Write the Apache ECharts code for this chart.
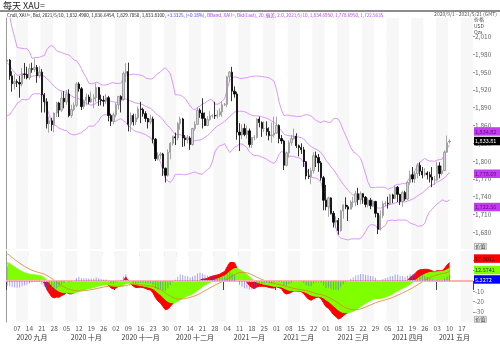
<!DOCTYPE html>
<html><head><meta charset="utf-8">
<script src="https://cdn.jsdelivr.net/npm/echarts@6/dist/echarts.min.js"></script>
<style>html,body{margin:0;padding:0;background:#fff}#c{width:500px;height:347px}</style>
</head><body><div id="c"></div>
<script>
// ---------- DATA ----------
const dates = [
'2020-09-01','2020-09-02','2020-09-03','2020-09-04','2020-09-07','2020-09-08','2020-09-09','2020-09-10','2020-09-11','2020-09-14','2020-09-15','2020-09-16','2020-09-17','2020-09-18','2020-09-21','2020-09-22','2020-09-23','2020-09-24','2020-09-25','2020-09-28','2020-09-29','2020-09-30',
'2020-10-01','2020-10-02','2020-10-05','2020-10-06','2020-10-07','2020-10-08','2020-10-09','2020-10-12','2020-10-13','2020-10-14','2020-10-15','2020-10-16','2020-10-19','2020-10-20','2020-10-21','2020-10-22','2020-10-23','2020-10-26','2020-10-27','2020-10-28','2020-10-29','2020-10-30',
'2020-11-02','2020-11-03','2020-11-04','2020-11-05','2020-11-06','2020-11-09','2020-11-10','2020-11-11','2020-11-12','2020-11-13','2020-11-16','2020-11-17','2020-11-18','2020-11-19','2020-11-20','2020-11-23','2020-11-24','2020-11-25','2020-11-26','2020-11-27','2020-11-30',
'2020-12-01','2020-12-02','2020-12-03','2020-12-04','2020-12-07','2020-12-08','2020-12-09','2020-12-10','2020-12-11','2020-12-14','2020-12-15','2020-12-16','2020-12-17','2020-12-18','2020-12-21','2020-12-22','2020-12-23','2020-12-24','2020-12-25','2020-12-28','2020-12-29','2020-12-30','2020-12-31',
'2021-01-01','2021-01-04','2021-01-05','2021-01-06','2021-01-07','2021-01-08','2021-01-11','2021-01-12','2021-01-13','2021-01-14','2021-01-15','2021-01-18','2021-01-19','2021-01-20','2021-01-21','2021-01-22','2021-01-25','2021-01-26','2021-01-27','2021-01-28','2021-01-29',
'2021-02-01','2021-02-02','2021-02-03','2021-02-04','2021-02-05','2021-02-08','2021-02-09','2021-02-10','2021-02-11','2021-02-12','2021-02-15','2021-02-16','2021-02-17','2021-02-18','2021-02-19','2021-02-22','2021-02-23','2021-02-24','2021-02-25','2021-02-26',
'2021-03-01','2021-03-02','2021-03-03','2021-03-04','2021-03-05','2021-03-08','2021-03-09','2021-03-10','2021-03-11','2021-03-12','2021-03-15','2021-03-16','2021-03-17','2021-03-18','2021-03-19','2021-03-22','2021-03-23','2021-03-24','2021-03-25','2021-03-26','2021-03-29','2021-03-30','2021-03-31',
'2021-04-01','2021-04-02','2021-04-05','2021-04-06','2021-04-07','2021-04-08','2021-04-09','2021-04-12','2021-04-13','2021-04-14','2021-04-15','2021-04-16','2021-04-19','2021-04-20','2021-04-21','2021-04-22','2021-04-23','2021-04-26','2021-04-27','2021-04-28','2021-04-29','2021-04-30',
'2021-05-03','2021-05-04','2021-05-05','2021-05-06','2021-05-07','2021-05-10','2021-05-11','2021-05-12','2021-05-13','2021-05-14','2021-05-17','2021-05-18','2021-05-19','2021-05-20','2021-05-21'
];
// [open, high, low, close] per trading day, 2020-09-01 .. 2021-05-10
const ohlc = [
[1967.9,1992.4,1963.5,1970.4],[1970.4,1972.0,1937.0,1943.7],[1943.7,1951.5,1917.0,1930.6],[1930.6,1946.5,1920.5,1934.1],[1934.1,1938.0,1925.0,1932.6],[1932.6,1943.6,1907.0,1930.0],[1930.0,1957.0,1926.0,1947.0],[1947.0,1965.6,1939.0,1946.0],[1946.0,1959.0,1938.0,1940.5],[1940.5,1964.0,1937.0,1956.0],[1956.0,1966.0,1949.0,1954.5],[1954.5,1973.0,1950.0,1958.0],[1958.0,1962.0,1932.0,1944.0],[1944.0,1960.0,1940.0,1950.0],[1950.0,1955.0,1882.0,1912.0],[1912.0,1915.0,1882.0,1900.0],[1900.0,1906.0,1855.0,1863.0],[1863.0,1875.0,1848.0,1868.0],[1868.0,1873.0,1851.0,1861.5],[1861.5,1882.0,1848.5,1881.0],[1881.0,1900.0,1874.0,1898.0],[1898.0,1900.0,1874.5,1886.0],
[1886.0,1917.0,1883.0,1906.0],[1906.0,1918.0,1889.0,1900.0],[1900.0,1920.0,1895.0,1913.0],[1913.0,1921.0,1874.0,1877.0],[1877.0,1895.0,1873.0,1887.0],[1887.0,1899.0,1884.0,1894.0],[1894.0,1933.0,1891.0,1930.0],[1930.0,1933.0,1917.0,1922.0],[1922.0,1925.0,1886.0,1892.0],[1892.0,1904.0,1888.0,1902.0],[1902.0,1914.0,1894.0,1908.0],[1908.0,1912.0,1896.0,1900.0],[1900.0,1917.0,1898.0,1905.0],[1905.0,1913.0,1889.0,1907.0],[1907.0,1931.0,1900.0,1924.0],[1924.0,1925.0,1893.0,1904.0],[1904.0,1912.0,1894.0,1902.0],[1902.0,1910.0,1892.0,1901.0],[1901.0,1913.0,1896.0,1907.0],[1907.0,1910.0,1867.0,1877.0],[1877.0,1880.0,1859.0,1867.0],[1867.0,1882.0,1862.0,1878.0],
[1878.0,1898.0,1874.0,1895.0],[1895.0,1910.0,1887.0,1909.0],[1909.0,1911.0,1882.0,1904.0],[1904.0,1951.0,1902.0,1948.0],[1948.0,1965.0,1933.0,1951.0],[1951.0,1966.0,1850.0,1862.0],[1862.0,1882.0,1849.0,1877.0],[1877.0,1880.0,1860.0,1866.0],[1866.0,1880.0,1861.0,1873.0],[1873.0,1892.0,1870.0,1888.0],[1888.0,1900.0,1864.0,1887.0],[1887.0,1890.0,1875.0,1880.0],[1880.0,1884.0,1866.0,1872.0],[1872.0,1873.0,1855.0,1866.0],[1866.0,1878.0,1862.0,1871.0],[1871.0,1875.0,1830.0,1837.0],[1837.0,1839.0,1800.0,1804.0],[1804.0,1815.0,1801.0,1810.0],[1810.0,1815.0,1803.0,1812.0],[1812.0,1814.0,1775.0,1788.0],[1788.0,1789.0,1764.0,1776.0],
[1776.0,1820.0,1774.0,1815.0],[1815.0,1832.0,1803.0,1830.0],[1830.0,1843.0,1826.0,1841.0],[1841.0,1848.0,1827.0,1839.0],[1839.0,1866.0,1835.0,1863.0],[1863.0,1875.0,1853.0,1871.0],[1871.0,1873.0,1824.0,1839.0],[1839.0,1844.0,1825.0,1836.0],[1836.0,1844.0,1830.0,1839.0],[1839.0,1842.0,1819.0,1828.0],[1828.0,1856.0,1826.0,1855.0],[1855.0,1867.0,1851.0,1862.0],[1862.0,1891.0,1861.0,1886.0],[1886.0,1889.0,1873.0,1881.0],[1881.0,1906.0,1855.0,1872.0],[1872.0,1882.0,1859.0,1860.0],[1860.0,1876.0,1859.0,1870.0],[1870.0,1884.0,1868.0,1876.0],[1876.0,1879.0,1873.0,1877.0],[1877.0,1900.0,1871.0,1876.0],[1876.0,1886.0,1872.0,1878.0],[1878.0,1889.0,1875.0,1883.0],[1883.0,1900.0,1875.0,1895.0],
[1895.0,1898.0,1893.0,1896.0],[1896.0,1944.0,1891.0,1942.0],[1942.0,1952.0,1933.0,1950.0],[1950.0,1959.0,1901.0,1918.0],[1918.0,1926.0,1907.0,1913.0],[1913.0,1917.0,1836.0,1849.0],[1849.0,1864.0,1817.0,1844.0],[1844.0,1862.0,1837.0,1855.0],[1855.0,1863.0,1842.0,1845.0],[1845.0,1860.0,1838.0,1851.0],[1851.0,1855.0,1823.0,1828.0],[1828.0,1840.0,1822.0,1840.0],[1840.0,1844.0,1835.0,1840.0],[1840.0,1872.0,1838.0,1871.0],[1871.0,1875.0,1857.0,1865.0],[1865.0,1867.0,1841.0,1855.0],[1855.0,1867.0,1849.0,1855.0],[1855.0,1867.0,1843.0,1850.0],[1850.0,1857.0,1835.0,1843.0],[1843.0,1865.0,1831.0,1844.0],[1844.0,1875.0,1840.0,1847.0],
[1847.0,1875.0,1846.0,1860.0],[1860.0,1862.0,1830.0,1838.0],[1838.0,1844.0,1829.0,1834.0],[1834.0,1836.0,1785.0,1793.0],[1793.0,1816.0,1791.0,1814.0],[1814.0,1835.0,1806.0,1831.0],[1831.0,1844.0,1826.0,1838.0],[1838.0,1855.0,1836.0,1842.0],[1842.0,1847.0,1822.0,1826.0],[1826.0,1828.0,1808.0,1823.0],[1823.0,1830.0,1812.0,1819.0],[1819.0,1824.0,1790.0,1799.0],[1799.0,1800.0,1769.0,1775.0],[1775.0,1787.0,1770.0,1774.0],[1774.0,1789.0,1761.0,1784.0],[1784.0,1815.0,1779.0,1809.0],[1809.0,1816.0,1790.0,1806.0],[1806.0,1812.0,1782.0,1797.0],[1797.0,1800.0,1767.0,1772.0],[1772.0,1775.0,1717.0,1734.0],
[1734.0,1760.0,1717.0,1723.0],[1723.0,1740.0,1706.0,1738.0],[1738.0,1739.0,1710.0,1712.0],[1712.0,1716.0,1688.0,1697.0],[1697.0,1707.0,1687.0,1700.0],[1700.0,1704.0,1676.0,1683.0],[1683.0,1718.0,1681.0,1716.0],[1716.0,1727.0,1703.0,1726.0],[1726.0,1739.0,1719.0,1723.0],[1723.0,1726.0,1699.0,1719.0],[1719.0,1734.0,1719.0,1731.0],[1731.0,1740.0,1722.0,1731.0],[1731.0,1750.0,1724.0,1745.0],[1745.0,1755.0,1726.0,1735.0],[1735.0,1749.0,1727.0,1745.0],[1745.0,1746.0,1728.0,1739.0],[1739.0,1741.0,1722.0,1727.0],[1727.0,1738.0,1722.0,1734.0],[1734.0,1738.0,1719.0,1725.0],[1725.0,1735.0,1723.0,1732.0],[1732.0,1733.0,1705.0,1712.0],[1712.0,1713.0,1677.0,1685.0],[1685.0,1717.0,1683.0,1708.0],
[1708.0,1733.0,1704.0,1728.0],[1728.0,1733.0,1724.0,1729.0],[1729.0,1740.0,1720.0,1728.0],[1728.0,1745.0,1726.0,1743.0],[1743.0,1745.0,1729.0,1737.0],[1737.0,1759.0,1736.0,1756.0],[1756.0,1758.0,1731.0,1744.0],[1744.0,1745.0,1726.0,1732.0],[1732.0,1750.0,1723.0,1747.0],[1747.0,1750.0,1733.0,1736.0],[1736.0,1766.0,1734.0,1764.0],[1764.0,1784.0,1760.0,1777.0],[1777.0,1790.0,1764.0,1770.0],[1770.0,1783.0,1763.0,1779.0],[1779.0,1797.0,1771.0,1793.0],[1793.0,1798.0,1775.0,1783.0],[1783.0,1790.0,1771.0,1777.0],[1777.0,1788.0,1774.0,1780.0],[1780.0,1783.0,1769.0,1777.0],[1777.0,1782.0,1764.0,1773.0],[1773.0,1790.0,1756.0,1768.0],[1768.0,1775.0,1760.0,1768.0],
[1768.0,1799.0,1767.0,1792.0],[1792.0,1798.0,1771.0,1779.0],[1779.0,1792.0,1776.0,1784.0],[1784.0,1818.0,1783.0,1815.0],[1815.0,1843.0,1814.0,1831.0],[1832.49,1836.65,1829.79,1833.81]
];
// closes before the visible range (Jun-Aug 2020), used only to seed the indicators
const warmupClose = [
1739.6,1727.0,1699.4,1714.2,1685.0,1698.2,1715.0,1737.3,1728.0,1730.0,1726.0,1727.3,1726.5,1722.2,1743.5,1754.0,1768.2,1761.0,1763.1,1771.1,1772.0,1780.9,
1769.7,1775.2,1772.1,1783.8,1795.0,1809.9,1803.2,1798.5,1802.5,1809.4,1808.1,1797.0,1810.2,1817.9,1842.5,1871.7,1887.4,1902.5,1941.4,1958.6,1970.2,1957.5,1975.9,
1976.7,2019.0,2039.2,2063.0,2035.5,2028.0,1911.8,1915.0,1954.5,1944.7,1985.5,2000.8,1929.5,1946.8,1940.2,1929.2,1907.0,1953.5,1929.7,1964.4,1967.8
];
const priceTicks = [1680,1710,1740,1770,1800,1830,1860,1890,1920,1950,1980,2010];
const macdTicks = [-30,-20,-10,0,10,20];
// last values shown on the axis tags (from the reference legend)
const bandTags = [1834.82, 1778.695, 1722.5635];   // upper, mid, lower
const closeTag = 1833.81;
const macdTags = [17.8011, 12.5741, 5.3272];        // MACD, signal, histogram
const monthNames = ['一月','二月','三月','四月','五月','六月','七月','八月','九月','十月','十一月','十二月'];

// ---------- INDICATORS (BBand 20/2.0, MACD 12/26/9) ----------
const close = ohlc.map(r => r[3]);
const allClose = warmupClose.concat(close);
const W = warmupClose.length;
const upper = [], mid = [], lower = [];
for (let i = 0; i < close.length; i++) {
  const j = W + i, win = allClose.slice(j - 19, j + 1);
  const m = win.reduce((a, b) => a + b, 0) / win.length;
  const sd = Math.sqrt(win.reduce((a, b) => a + (b - m) * (b - m), 0) / win.length);
  mid.push(+m.toFixed(2)); upper.push(+(m + 2 * sd).toFixed(2)); lower.push(+(m - 2 * sd).toFixed(2));
}
function ema(arr, n) { const k = 2 / (n + 1); const out = []; arr.forEach((v, i) => out.push(i ? v * k + out[i - 1] * (1 - k) : v)); return out; }
const e12 = ema(allClose, 12), e26 = ema(allClose, 26);
const macdAll = e12.map((v, i) => v - e26[i]);
const sigAll = ema(macdAll, 9);
const sig2All = ema(sigAll, 9);
const macd = macdAll.slice(W).map(v => +v.toFixed(3));
const signal = sigAll.slice(W).map(v => +v.toFixed(3));
const slowLine = sig2All.slice(W).map(v => +v.toFixed(3));
const hist = macd.map((v, i) => +(v - signal[i]).toFixed(3));

// ---------- HELPERS ----------
const dObj = dates.map(d => new Date(d + 'T00:00:00Z'));
const isMonday = i => dObj[i].getUTCDay() === 1;
const monthKey = i => dObj[i].getUTCFullYear() * 12 + dObj[i].getUTCMonth();
const monthStart = new Set(), monthMid = new Set();
{ let s = 0; for (let i = 1; i <= dates.length; i++) { if (i === dates.length || monthKey(i) !== monthKey(s)) { monthStart.add(s); monthMid.add(Math.floor((s + i - 1) / 2)); s = i; } } }
const comma = v => { const p = Math.abs(v).toFixed(0); return (v < 0 ? '-' : '') + p.replace(/\B(?=(\d{3})+(?!\d))/g, ','); };
const comma2 = v => v.toFixed(2).replace(/\B(?=(\d{3})+(?!\d))/g, ',');
const FONT = "'Noto Sans CJK SC','Liberation Sans',sans-serif";
const candleData = ohlc.map(r => [r[0], r[3], r[2], r[1]]);

const stripes = { show: true, interval: (i) => isMonday(i), areaStyle: { color: ['#ffffff', '#f7f7f7'] } };
const tag = (v, bg, fg, txt, dy) => ({
  yAxis: v,
  label: { show: true, opacity: 1, position: 'end', distance: 1, formatter: txt, backgroundColor: bg, color: fg,
           fontSize: 5.5, fontFamily: FONT, padding: [2, 1, 1, 1], width: 25, overflow: 'truncate', offset: [0, dy || 0] },
  lineStyle: { color: 'rgba(0,0,0,0)', width: 0.01, opacity: 1 }
});
const unitBox = (top) => ({ type: 'group', left: 474, top: top, children: [
  { type: 'rect', shape: { x: 0, y: 0, width: 12, height: 6 }, style: { fill: '#e6e6e6', stroke: '#8a8a8a', lineWidth: 0.6 } },
  { type: 'text', x: 1, y: 0.6, style: { text: '价值', font: '5px ' + FONT, fill: '#333' } }
] });

const chart = echarts.init(document.getElementById('c'), null, { renderer: 'canvas' });
chart.setOption({
  animation: false,
  backgroundColor: '#ffffff',
  textStyle: { fontFamily: FONT },
  grid: [
    { left: 6, right: 27, top: 18, height: 231 },
    { left: 6, right: 27, top: 251, height: 71 }
  ],
  xAxis: [
    { type: 'category', gridIndex: 0, data: dates, boundaryGap: true,
      axisLine: { show: false }, axisTick: { show: false }, axisLabel: { show: false },
      splitLine: { show: false }, splitArea: stripes },
    { type: 'category', gridIndex: 1, data: dates, boundaryGap: true,
      axisLine: { show: true, lineStyle: { color: '#c8c8c8' } }, axisTick: { show: false },
      axisLabel: { show: true, interval: (i) => isMonday(i), formatter: v => v.slice(8, 10),
                   fontSize: 6.5, color: '#555', margin: 3 },
      splitLine: { show: false }, splitArea: stripes },
    { type: 'category', gridIndex: 1, data: dates, boundaryGap: true, position: 'bottom', offset: 9,
      axisLine: { show: false },
      axisTick: { show: true, interval: (i) => monthStart.has(i), length: 9, lineStyle: { color: '#444' } },
      axisLabel: { show: true, interval: (i) => monthMid.has(i), margin: 3, fontSize: 7, color: '#333',
                   formatter: v => v.slice(0, 4) + ' ' + monthNames[+v.slice(5, 7) - 1] },
      splitLine: { show: false }, splitArea: { show: false } }
  ],
  yAxis: [
    { type: 'value', gridIndex: 0, position: 'right', min: 1651.8, max: 2041.3, scale: true,
      axisLine: { show: false },
      axisTick: { show: true, customValues: priceTicks, length: 2, lineStyle: { color: '#999' } },
      axisLabel: { show: true, customValues: priceTicks, formatter: v => comma(v), fontSize: 6.5, color: '#666', margin: 2 },
      splitLine: { show: true, lineStyle: { color: '#f0f0f0', width: 1 } } },
    { type: 'value', gridIndex: 1, position: 'right', min: -39.7, max: 29,
      axisLine: { show: false },
      axisTick: { show: true, customValues: macdTicks, length: 2, lineStyle: { color: '#999' } },
      axisLabel: { show: true, customValues: macdTicks, fontSize: 6, color: '#666', margin: 2 },
      splitLine: { show: true, lineStyle: { color: '#f0f0f0', width: 1 } } },
    { type: 'value', gridIndex: 0, position: 'left', min: 1651.8, max: 2041.3,
      axisLine: { show: true, lineStyle: { color: '#9a9a9a', width: 1 } }, axisTick: { show: false },
      axisLabel: { show: false }, splitLine: { show: false } },
    { type: 'value', gridIndex: 1, position: 'left', min: -39.7, max: 29,
      axisLine: { show: true, onZero: false, lineStyle: { color: '#9a9a9a', width: 1 } }, axisTick: { show: false },
      axisLabel: { show: false }, splitLine: { show: false } }
  ],
  series: [
    { type: 'line', xAxisIndex: 0, yAxisIndex: 0, data: upper, symbol: 'none', z: 3,
      lineStyle: { color: '#dc96ff', width: 1 },
      markLine: { silent: true, symbol: 'none', data: [tag(bandTags[0], '#c23cf0', '#6a0a90', comma2(bandTags[0]), -9)] } },
    { type: 'line', xAxisIndex: 0, yAxisIndex: 0, data: mid, symbol: 'none', z: 3,
      lineStyle: { color: '#dc96ff', width: 1 },
      markLine: { silent: true, symbol: 'none', data: [tag(bandTags[1], '#c23cf0', '#6a0a90', comma2(bandTags[1]))] } },
    { type: 'line', xAxisIndex: 0, yAxisIndex: 0, data: lower, symbol: 'none', z: 3,
      lineStyle: { color: '#dc96ff', width: 1 },
      markLine: { silent: true, symbol: 'none', data: [tag(bandTags[2], '#c23cf0', '#6a0a90', comma2(bandTags[2]))] } },
    { type: 'candlestick', xAxisIndex: 0, yAxisIndex: 0, data: candleData, barWidth: 1.8, z: 4,
      itemStyle: { color: '#d4d4d4', color0: '#000000', borderColor: '#909090', borderColor0: '#000000', borderWidth: 0.8 },
      markLine: { silent: true, symbol: 'none', data: [tag(closeTag, '#000000', '#ffffff', comma2(closeTag))] } },

    { type: 'line', xAxisIndex: 1, yAxisIndex: 1, data: macd, symbol: 'none', z: 2,
      lineStyle: { color: '#ff0000', width: 1 }, areaStyle: { color: '#ff0000', opacity: 1 },
      markLine: { silent: true, symbol: 'none', data: [tag(macdTags[0], '#ff0000', '#300000', macdTags[0].toFixed(4), -4)] } },
    { type: 'line', xAxisIndex: 1, yAxisIndex: 1, data: signal, symbol: 'none', z: 3,
      lineStyle: { color: '#80ff00', width: 1 }, areaStyle: { color: '#80ff00', opacity: 1 },
      markLine: { silent: true, symbol: 'none', data: [tag(macdTags[1], '#80ff00', '#204000', macdTags[1].toFixed(4), 2)] } },
    { type: 'line', xAxisIndex: 1, yAxisIndex: 1, data: slowLine, symbol: 'none', z: 4,
      lineStyle: { color: '#e0802a', width: 0.8 },
      markLine: { silent: true, symbol: 'none', data: [{ yAxis: 0, label: { show: false }, lineStyle: { color: '#ffb0b0', width: 2, type: 'solid' } }] } },
    { type: 'bar', xAxisIndex: 1, yAxisIndex: 1, data: hist, barWidth: 1, z: 5,
      itemStyle: { color: 'rgba(80,80,255,0.5)' },
      markLine: { silent: true, symbol: 'none', data: [tag(macdTags[2], '#0000ff', '#ffffff', macdTags[2].toFixed(4), 4)] } }
  ],
  graphic: [
    { type: 'text', left: 3, top: 1, style: { text: '每天 XAU=', font: '9px ' + FONT, fill: '#222' } },
    { type: 'line', shape: { x1: 0, y1: 11, x2: 500, y2: 11 }, style: { stroke: '#8c8c8c', lineWidth: 2 } },
    { type: 'text', right: 3, top: 12, style: { text: '2020/9/1 - 2021/5/21 (GMT)', font: '5px ' + FONT, fill: '#555' } },
    { type: 'text', left: 7, top: 12.5, style: { rich: {
        k: { fill: '#222', font: '4.6px ' + FONT }, b: { fill: '#3a3aff', font: '4.6px ' + FONT }, p: { fill: '#b040e8', font: '4.6px ' + FONT } },
        text: '{k|Cndl, XAU=, Bid, 2021/5/10, 1,832.4900, 1,836.6454, 1,829.7850, 1,833.8100, }{b|+3.3325, (+0.18%), }{p|BBand, XAU=, Bid(Last), 20, 偏差, 2.0, 2021/5/10, 1,834.6950, 1,778.6950, 1,722.5635}' } },
    { type: 'text', left: 474, top: 16, style: { text: '价格\nUSD\nOzs', font: '5px ' + FONT, fill: '#444', lineHeight: 6.5 } },
    unitBox(243),
    unitBox(316),
    { type: 'text', left: 7, top: 252, style: { rich: {
        b: { fill: '#3a3aff', font: '4.6px ' + FONT }, r: { fill: '#ff2020', font: '4.6px ' + FONT }, g: { fill: '#70e000', font: '4.6px ' + FONT } },
        text: '{b|MACDF, XAU=, Bid(Last), 12, 26, 9, 隐藏, 2021/5/10, 5.3272, }{r|MA(2), XAU=, Bid(Last), 12, 26, 9, 隐藏, 2021/5/10, 17.8011, }{g|12.5741}' } }
  ]
});
</script></body></html>
